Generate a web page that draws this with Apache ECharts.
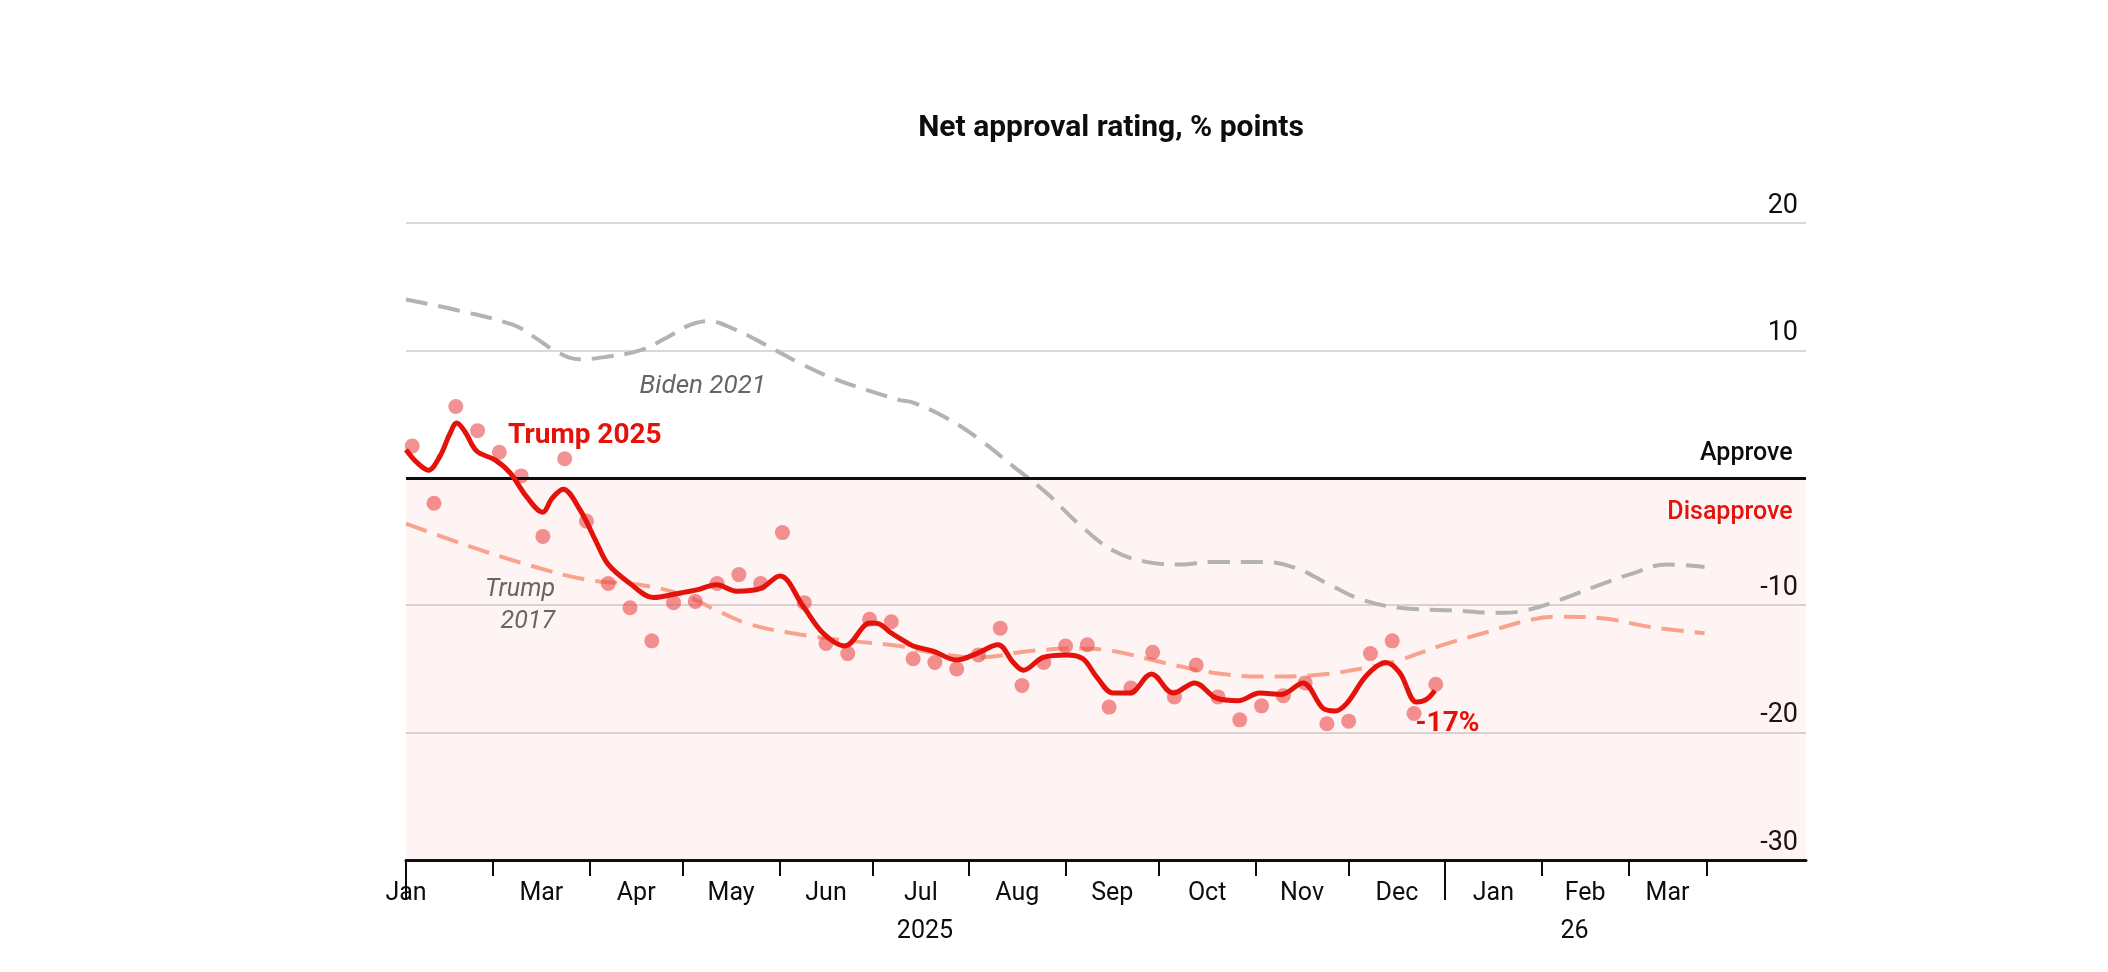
<!DOCTYPE html>
<html>
<head>
<meta charset="utf-8">
<script src="https://cdn.jsdelivr.net/npm/echarts@6/dist/echarts.min.js"></script>
<style>
html,body{margin:0;padding:0;background:#fff;}
#c{width:2108px;height:972px;}
</style>
</head>
<body>
<div id="c"></div>
<script>
// x values are days counted from the left edge of the chart
const pollDays = [2,9,16,23,30,37,44,51,58,65,72,79,86,93,100,107,114,121,128,135,142,149,156,163,170,177,184,191,198,205,212,219,226,233,240,247,254,261,268,275,282,289,296,303,310,317,324,331];
const pollValues = [2.5,-2.0,5.6,3.7,2.0,0.15,-4.6,1.5,-3.4,-8.3,-10.2,-12.8,-9.8,-9.7,-8.3,-7.6,-8.3,-4.3,-9.8,-13.0,-13.8,-11.1,-11.3,-14.2,-14.5,-15.0,-13.9,-11.8,-16.3,-14.5,-13.2,-13.1,-18.0,-16.5,-13.7,-17.2,-14.7,-17.2,-19.0,-17.9,-17.1,-16.1,-19.3,-19.1,-13.8,-12.8,-18.5,-16.2];

const trump2025Days = [0,3.5,7.2,10.9,14,16.3,19,22.7,28.6,33.4,38.8,43.9,47,50.5,55.9,61.3,65,72,79.5,87,93.4,99.8,106.3,113.8,120.2,127.7,134.1,141.1,149.1,152.3,155.5,158.7,163,169.4,176.9,183.4,190.3,195.2,198.4,204.8,212.3,217.6,221.9,227.3,232.6,239.6,246.6,253.5,260.5,267.5,274.4,281.4,288.3,294.8,298.6,302.4,308.8,314.9,319.4,324.8,328,330.7];
const trump2025Values = [2.2,1.2,0.6,1.7,3.4,4.3,3.6,2.1,1.4,0.4,-1.5,-2.7,-1.6,-0.9,-2.5,-5.1,-6.8,-8.3,-9.4,-9.1,-8.8,-8.4,-8.9,-8.7,-7.7,-10.1,-12.2,-13.2,-11.4,-11.5,-12.1,-12.6,-13.2,-13.6,-14.3,-13.8,-13.1,-14.5,-15.1,-14.1,-13.9,-14.2,-15.6,-16.9,-16.9,-15.4,-16.9,-16.1,-17.3,-17.5,-16.9,-17.0,-16.1,-18.1,-18.3,-17.7,-15.5,-14.5,-15.3,-17.6,-17.4,-16.7];

const trump2017Days = [0,19.5,38.8,58.1,75.2,89.1,99.8,110.5,126.6,142.7,158.7,168.4,184.4,200.5,216.6,227.3,243.4,259.4,275.5,291.6,308.7,319.4,332.3,346.2,362.3,370.8,383.7,399.7,417.4];
const trump2017Values = [-3.6,-5.3,-6.8,-8.0,-8.4,-9.2,-10.4,-11.5,-12.3,-12.8,-13.2,-13.7,-14.1,-13.6,-13.4,-13.6,-14.5,-15.3,-15.6,-15.5,-14.9,-14.3,-13.2,-12.2,-11.1,-10.9,-11.0,-11.7,-12.2];

const biden2021Days = [0,17.4,34.5,40.9,48.4,55.9,64.5,75.2,83.8,91.3,97.1,105.2,115.9,126.6,137.3,148,158.7,163,173.7,184.4,195.2,205.9,216.6,227.3,238,248.7,259.4,275.5,286.2,296.9,307.6,319.4,335.5,351.5,360.1,370.8,383.7,394.4,405.1,417.4];
const biden2021Values = [14.0,13.1,12.0,11.1,9.9,9.3,9.5,10.0,11.0,12.0,12.3,11.7,10.4,9.0,7.8,6.9,6.1,5.9,4.7,3.0,0.9,-1.2,-3.7,-5.7,-6.6,-6.8,-6.6,-6.6,-7.1,-8.4,-9.6,-10.2,-10.4,-10.6,-10.4,-9.6,-8.4,-7.5,-6.8,-7.0];

const monthTickDays = [28,59,89,120,150,181,212,242,273,303,365,393,418];
const yearTickDays = [0,334];
const monthLabels = ['Jan','Mar','Apr','May','Jun','Jul','Aug','Sep','Oct','Nov','Dec','Jan','Feb','Mar'];
const monthLabelDays = [0,43.5,74,104.5,135,165.5,196.5,227,257.5,288,318.5,349.5,379,405.5];
const yearLabels = ['2025','26'];
const yearLabelDays = [166.8,375.6];

const yTicks = {min:-30, max:20, step:10};

const RED = '#e3120b';
const FONT = 'Roboto, "Noto Sans", sans-serif';
const zip = (a, b) => a.map((d, i) => [d, b[i]]);

const allLabelDays = monthLabelDays.concat(yearLabelDays);
function xLabel(v) {
  for (let i = 0; i < monthLabelDays.length; i++) if (Math.abs(monthLabelDays[i] - v) < 0.01) return monthLabels[i];
  for (let i = 0; i < yearLabelDays.length; i++) if (Math.abs(yearLabelDays[i] - v) < 0.01) return '\n' + yearLabels[i];
  return '';
}

const chart = echarts.init(document.getElementById('c'));

chart.setOption({
  animation: false,
  backgroundColor: '#fff',
  title: {
    text: 'Net approval rating, % points',
    left: 1106, top: 105, textAlign: 'center',
    textStyle: {fontFamily: FONT, fontSize: 30, fontWeight: 'bold', color: '#0d0d0d', lineHeight: 36}
  },
  grid: {left: 406, right: 302, top: 223, bottom: 112, containLabel: false},
  xAxis: [{
    type: 'value', min: 0, max: 450, position: 'bottom',
    axisLine: {show: true, onZero: false, lineStyle: {color: '#0d0d0d', width: 3}},
    axisTick: {show: true, customValues: monthTickDays, length: 16, lineStyle: {color: '#0d0d0d', width: 2}},
    axisLabel: {show: true, customValues: allLabelDays, formatter: xLabel, margin: 15,
      fontFamily: FONT, fontSize: 25, color: '#0d0d0d', lineHeight: 38},
    splitLine: {show: false}
  }, {
    type: 'value', min: 0, max: 450, position: 'bottom',
    axisLine: {show: false, onZero: false},
    axisTick: {show: true, customValues: yearTickDays, length: 40, lineStyle: {color: '#0d0d0d', width: 2}},
    axisLabel: {show: false},
    splitLine: {show: false}
  }],
  yAxis: {
    type: 'value', min: yTicks.min, max: yTicks.max, interval: yTicks.step, position: 'right',
    axisLine: {show: false}, axisTick: {show: false},
    axisLabel: {inside: true, margin: 8, verticalAlign: 'bottom', lineHeight: 34,
      fontFamily: FONT, fontSize: 27, color: '#0d0d0d',
      formatter: v => (v === 0 ? '' : String(v))},
    splitLine: {show: true, lineStyle: {color: '#d9d9d9', width: 2}}
  },
  series: [
    {
      name: 'Biden 2021', type: 'line', data: zip(biden2021Days, biden2021Values),
      smooth: 0.4, symbol: 'none', silent: true, z: 3,
      lineStyle: {color: '#b3b3b3', width: 4, type: [22, 11]},
      markArea: {
        silent: true,
        itemStyle: {color: 'rgba(235,90,80,0.065)'},
        data: [[{xAxis: 0, yAxis: 0}, {xAxis: 450, yAxis: -30}]]
      }
    },
    {
      name: 'Trump 2017', type: 'line', data: zip(trump2017Days, trump2017Values),
      smooth: 0.4, symbol: 'none', silent: true, z: 3,
      lineStyle: {color: '#f9a38f', width: 4, type: [22, 11]},
      markLine: {
        silent: true, symbol: 'none',
        lineStyle: {color: '#0d0d0d', width: 3, type: 'solid'},
        label: {show: false},
        data: [{yAxis: 0}]
      }
    },
    {
      name: 'Polls', type: 'scatter', data: zip(pollDays, pollValues),
      symbolSize: 15, silent: true, z: 4,
      itemStyle: {color: 'rgba(234,74,74,0.6)', opacity: 1}
    },
    {
      name: 'Trump 2025', type: 'line', data: zip(trump2025Days, trump2025Values),
      smooth: 0.35, symbol: 'none', silent: true, z: 5,
      lineStyle: {color: RED, width: 5}
    },
    {
      name: 'labels', type: 'scatter', symbolSize: 1, silent: true, z: 6,
      itemStyle: {color: 'rgba(255,255,255,0)', opacity: 1},
      label: {show: true, position: 'inside', formatter: p => p.name, fontFamily: FONT,
        opacity: 1, textBorderWidth: 0},
      data: [
        {name: 'Biden 2021', value: [95.4, 7.2], label: {align: 'center', verticalAlign: 'middle', fontSize: 26, fontStyle: 'italic', color: '#666666'}},
        {name: 'Trump\n2017', value: [47.9, -10.05], label: {align: 'right', verticalAlign: 'middle', fontSize: 25, lineHeight: 32, fontStyle: 'italic', color: '#666666'}},
        {name: 'Trump 2025', value: [32.8, 3.3], label: {align: 'left', verticalAlign: 'middle', fontSize: 28, fontWeight: 'bold', color: RED}},
        {name: '-17%', value: [324.5, -19.3], label: {align: 'left', verticalAlign: 'middle', fontSize: 28, fontWeight: 'bold', color: RED}},
        {name: 'Approve', value: [445.7, 1.9], label: {align: 'right', verticalAlign: 'middle', fontSize: 25, fontWeight: 500, color: '#0d0d0d'}},
        {name: 'Disapprove', value: [445.7, -2.75], label: {align: 'right', verticalAlign: 'middle', fontSize: 25, fontWeight: 500, color: RED}}
      ]
    }
  ]
});
</script>
</body>
</html>
